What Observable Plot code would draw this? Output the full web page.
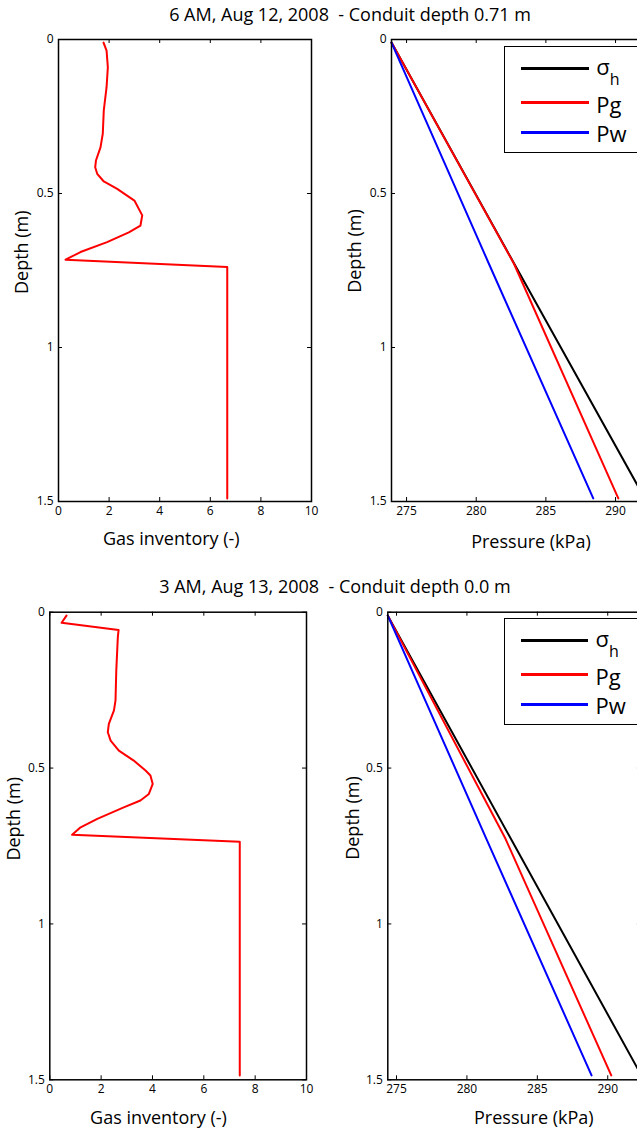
<!DOCTYPE html>
<html>
<head>
<meta charset="utf-8">
<script src="https://cdn.jsdelivr.net/npm/d3@7"></script>
<script src="https://cdn.jsdelivr.net/npm/@observablehq/plot@0.6"></script>
<style>
  html, body { margin: 0; padding: 0; background: #fff; overflow: hidden; }
  #root { position: relative; width: 637px; height: 1131px; overflow: hidden; font-family: "Open Sans", sans-serif; color: #000; }
  .panel { position: absolute; }
  .panel svg { max-width: none !important; display: block; }
  .title { position: absolute; font-size: 18px; line-height: 18px; white-space: pre; transform: translateX(-50%); }
  .legend { position: absolute; box-sizing: border-box; border: 1.5px solid #000; background: #fff; }
  .legend .sw { position: absolute; height: 3px; }
  .legend .lab { position: absolute; font-size: 22px; line-height: 22px; white-space: pre; }
  .legend sub { font-size: 16px; vertical-align: 0; position: relative; top: 10px; line-height: 0; }
</style>
</head>
<body>
<div id="root"></div>
<script>
// ---------------- DATA ----------------
const titles = ["6 AM, Aug 12, 2008  - Conduit depth 0.71 m", "3 AM, Aug 13, 2008  - Conduit depth 0.0 m"];
const gasLabel = "Gas inventory (-)";
const pressureLabel = "Pressure (kPa)";
const depthLabel = "Depth (m)";

const gasTicks = [0, 2, 4, 6, 8, 10];
const pressureTicks = [275, 280, 285, 290];
const depthTicks = [0, 0.5, 1, 1.5];

const seriesNames = ["σh", "Pg", "Pw"];
const seriesColors = ["#000000", "#ff0000", "#0000ff"];

// Top: 6 AM, Aug 12, 2008 — gas inventory profile
const gasDepth1 = [0.01, 0.036, 0.09, 0.155, 0.23, 0.306, 0.35, 0.393, 0.415, 0.436, 0.461, 0.485, 0.523, 0.571, 0.604, 0.626, 0.658, 0.69, 0.715, 0.739, 1.49];
const gasValue1 = [1.78, 1.9, 1.95, 1.9, 1.79, 1.75, 1.66, 1.48, 1.45, 1.53, 1.79, 2.32, 3.0, 3.31, 3.24, 2.78, 1.92, 0.87, 0.28, 6.67, 6.67];
// Top: pressures
const pDepth1 = [0.01, 0.728, 1.49];
const sigmaH1 = [273.92, 282.73, 292.10];
const pg1 = [273.92, 282.71, 290.20];
const pw1 = [273.92, 280.91, 288.40];

// Bottom: 3 AM, Aug 13, 2008 — gas inventory profile
const gasDepth2 = [0.011, 0.034, 0.057, 0.08, 0.187, 0.283, 0.315, 0.358, 0.385, 0.412, 0.444, 0.476, 0.508, 0.524, 0.551, 0.583, 0.604, 0.626, 0.663, 0.69, 0.714, 0.736, 1.486];
const gasValue2 = [0.65, 0.46, 2.68, 2.65, 2.59, 2.56, 2.5, 2.3, 2.26, 2.37, 2.69, 3.27, 3.73, 3.92, 4.01, 3.86, 3.53, 2.88, 1.85, 1.2, 0.87, 7.4, 7.4];
// Bottom: pressures
const pDepth2 = [0.011, 0.727, 1.486];
const sigmaH2 = [274.38, 283.12, 292.39];
const pg2 = [274.38, 282.74, 290.25];
const pw2 = [274.38, 281.38, 288.85];

// ---------------- LAYOUT ----------------
const rows = [
  {
    title: {x: 350, baseline: 20.7},
    gas: {left: 0, top: 0, width: 320, height: 560, mL: 58, mT: 39, mR: 9, mB: 59, xl: {dx: -13.7, dy: 37.3}, yl: {dx: -36.7, dy: -18.3}},
    pres: {left: 320, top: 0, width: 330, height: 560, mL: 71, mT: 39, mR: 5.7, mB: 59, xl: {dx: 12.8, dy: 40.7}, yl: {dx: -36, dy: -19.5}},
    legend: {left: 504.3, top: 45.7, width: 160, height: 107.6}
  },
  {
    title: {x: 335, baseline: 592.7},
    gas: {left: 0, top: 570, width: 320, height: 561, mL: 49.3, mT: 41.7, mR: 14, mB: 51.7, xl: {dx: -19.7, dy: 38.2}, yl: {dx: -35.6, dy: -27.2}},
    pres: {left: 320, top: 570, width: 330, height: 561, mL: 67.3, mT: 41.7, mR: 9.1, mB: 51.7, xl: {dx: 19.2, dy: 38}, yl: {dx: -34.3, dy: -28}},
    legend: {left: 503.7, top: 617.7, width: 160, height: 107.3}
  }
];
const legendLineY = [23.3, 57.6, 87];
const legendBaseOff = [6, 10, 9];

const root = document.getElementById("root");

function mount(cfg, svg) {
  const d = document.createElement("div");
  d.className = "panel";
  d.style.left = cfg.left + "px";
  d.style.top = cfg.top + "px";
  d.style.width = cfg.width + "px";
  d.style.height = cfg.height + "px";
  d.appendChild(svg);
  root.appendChild(d);
}

function frameMarks(cfg, xTicks, xLabel) {
  const fw = cfg.width - cfg.mL - cfg.mR;
  const fh = cfg.height - cfg.mT - cfg.mB;
  return [
    Plot.frame({stroke: "#000", strokeWidth: 1.5}),
    Plot.tickX(xTicks, {x: d => d, insetTop: fh - 4, stroke: "#000", strokeWidth: 1}),
    Plot.tickX(xTicks, {x: d => d, insetBottom: fh - 4, stroke: "#000", strokeWidth: 1}),
    Plot.tickY(depthTicks, {y: d => d, insetRight: fw - 4, stroke: "#000", strokeWidth: 1}),
    Plot.tickY(depthTicks, {y: d => d, insetLeft: fw - 4, stroke: "#000", strokeWidth: 1}),
    Plot.axisX(xTicks, {anchor: "bottom", tickSize: 0, tickPadding: 5, fontSize: 12, label: null, tickFormat: d => String(d)}),
    Plot.axisY(depthTicks, {anchor: "left", tickSize: 0, tickPadding: 5, fontSize: 12, label: null, tickFormat: d => String(d)}),
    Plot.text([xLabel], {text: d => d, frameAnchor: "bottom", textAnchor: "middle", lineAnchor: "middle", dx: cfg.xl.dx, dy: cfg.xl.dy, fontSize: 18, fill: "#000"}),
    Plot.text([depthLabel], {text: d => d, frameAnchor: "left", textAnchor: "middle", lineAnchor: "middle", rotate: -90, dx: cfg.yl.dx, dy: cfg.yl.dy, fontSize: 18, fill: "#000"})
  ];
}

function basePlot(cfg, xScale, marks) {
  return Plot.plot({
    width: cfg.width, height: cfg.height,
    marginLeft: cfg.mL, marginRight: cfg.mR, marginTop: cfg.mT, marginBottom: cfg.mB,
    style: {fontFamily: '"Open Sans", sans-serif', fontSize: "12px", background: "transparent", color: "#000"},
    x: {...xScale, axis: null},
    y: {domain: [0, 1.5], reverse: true, axis: null},
    color: {domain: seriesNames, range: seriesColors},
    marks
  });
}

const profiles = [
  {gasDepth: gasDepth1, gasValue: gasValue1, pDepth: pDepth1, series: [sigmaH1, pg1, pw1]},
  {gasDepth: gasDepth2, gasValue: gasValue2, pDepth: pDepth2, series: [sigmaH2, pg2, pw2]}
];

rows.forEach((row, i) => {
  const prof = profiles[i];

  // title
  const t = document.createElement("div");
  t.className = "title";
  t.textContent = titles[i];
  t.style.left = row.title.x + "px";
  t.style.top = (row.title.baseline - 0.888 * 18) + "px";
  root.appendChild(t);

  // gas panel
  const gasData = prof.gasDepth.map((d, k) => ({depth: d, gas: prof.gasValue[k]}));
  mount(row.gas, basePlot(row.gas, {domain: [0, 10]}, [
    ...frameMarks(row.gas, gasTicks, gasLabel),
    Plot.line(gasData, {x: "gas", y: "depth", stroke: "#ff0000", strokeWidth: 2})
  ]));

  // pressure panel
  const pData = [];
  seriesNames.forEach((name, s) => {
    prof.pDepth.forEach((d, k) => pData.push({series: name, depth: d, p: prof.series[s][k]}));
  });
  const ext = d3.extent(pData, d => d.p);
  mount(row.pres, basePlot(row.pres, {domain: ext}, [
    Plot.line(pData, {x: "p", y: "depth", z: "series", stroke: "series", strokeWidth: 2}),
    ...frameMarks(row.pres, pressureTicks, pressureLabel)
  ]));

  // legend
  const lg = document.createElement("div");
  lg.className = "legend";
  lg.style.left = row.legend.left + "px";
  lg.style.top = row.legend.top + "px";
  lg.style.width = row.legend.width + "px";
  lg.style.height = row.legend.height + "px";
  const b = 1.5;
  seriesNames.forEach((name, s) => {
    const sw = document.createElement("div");
    sw.className = "sw";
    sw.style.background = seriesColors[s];
    sw.style.left = (17.4 - b) + "px";
    sw.style.width = "67.6px";
    sw.style.top = (legendLineY[s] - b - 1.5) + "px";
    lg.appendChild(sw);
    const lab = document.createElement("div");
    lab.className = "lab";
    lab.style.left = (92.4 - b) + "px";
    lab.style.top = (legendLineY[s] + legendBaseOff[s] - 0.888 * 22 - b) + "px";
    if (name === "σh") {
      lab.innerHTML = "σ<sub>h</sub>";
    } else {
      lab.textContent = name;
    }
    lg.appendChild(lab);
  });
  root.appendChild(lg);
});
</script>
</body>
</html>
